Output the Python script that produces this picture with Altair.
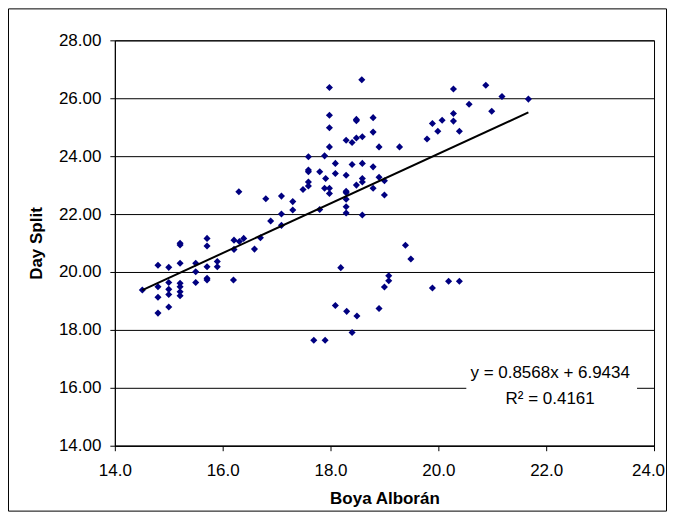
import altair as alt
import pandas as pd

# ---- data ----
boya = [14.51, 14.80, 14.80, 14.80, 14.80, 15.00, 15.00, 15.00, 15.00, 15.00,
        15.21, 15.21, 15.21, 15.21, 15.21, 15.21, 15.21, 15.50, 15.50, 15.50,
        15.71, 15.71, 15.71, 15.71, 15.71, 15.90, 15.90, 16.20, 16.21, 16.31,
        16.39, 16.21, 16.30, 16.59, 16.70, 16.80, 16.89, 17.09, 17.09, 17.09,
        17.30, 17.30, 17.49, 17.59, 17.59, 17.59, 17.59, 17.59, 17.69, 17.80,
        17.80, 17.89, 17.91, 17.89, 17.98, 17.98, 17.90, 17.98, 17.98, 17.98,
        17.98, 18.09, 18.09, 18.09, 18.19, 18.29, 18.29, 18.29, 18.29, 18.29,
        18.29, 18.29, 18.30, 18.40, 18.40, 18.40, 18.48, 18.48, 18.48, 18.48,
        18.49, 18.58, 18.59, 18.59, 18.59, 18.59, 18.59, 18.79, 18.79, 18.79,
        18.79, 18.90, 18.90, 18.90, 19.00, 19.00, 19.00, 19.08, 19.08, 19.28,
        19.39, 19.49, 19.79, 19.89, 19.89, 19.99, 20.07, 20.19, 20.28, 20.28,
        20.28, 20.39, 20.39, 20.57, 20.88, 20.99, 21.18, 21.67]
day_split = [19.38, 20.23, 19.49, 19.13, 18.58, 20.16, 19.64, 19.40, 19.22, 18.79,
             20.99, 20.93, 20.30, 19.61, 19.49, 19.32, 19.18, 20.30, 20.01, 19.64,
             21.16, 20.90, 20.18, 19.78, 19.72, 20.36, 20.18, 19.72, 21.10, 21.05,
             21.16, 20.78, 22.77, 20.79, 21.18, 22.53, 21.76, 22.62, 22.00, 21.61,
             22.43, 22.14, 22.85, 23.98, 23.52, 23.46, 23.11, 22.97, 17.64, 23.46,
             22.16, 24.01, 23.23, 22.89, 22.89, 22.71, 17.64, 26.37, 25.41, 24.98,
             24.32, 23.75, 23.40, 18.84, 20.15, 24.55, 23.34, 22.79, 22.74, 22.51,
             22.25, 22.04, 18.64, 24.47, 23.71, 17.91, 25.27, 25.22, 24.63, 23.00,
             18.48, 26.64, 24.67, 23.75, 23.23, 23.11, 21.97, 25.33, 24.83, 23.63,
             22.89, 24.32, 23.27, 18.74, 23.15, 22.66, 19.48, 19.87, 19.70, 24.32,
             20.92, 20.45, 24.59, 25.13, 19.45, 24.86, 25.24, 19.68, 26.32, 25.47,
             25.21, 24.86, 19.68, 25.79, 26.45, 25.55, 26.06, 25.97]

slope = 0.8568
intercept = 6.9434
r_squared = 0.4161

x_ticks = [14, 16, 18, 20, 22, 24]
y_ticks = [14, 16, 18, 20, 22, 24, 26, 28]

eq_line1 = f"y = {slope}x + {intercept}"
eq_line2 = f"R\u00b2 = {r_squared}"

FONT = "Liberation Sans"
NAVY = "#000080"

df = pd.DataFrame({"boya": boya, "split": day_split})
xmin, xmax = min(boya), max(boya)
trend = pd.DataFrame({"boya": [xmin, xmax],
                      "split": [slope * xmin + intercept, slope * xmax + intercept]})

xscale = alt.Scale(domain=[14, 24], nice=False, zero=False)
yscale = alt.Scale(domain=[14, 28], nice=False, zero=False)

points = alt.Chart(df).mark_point(
    shape="diamond", filled=True, color=NAVY, size=50, opacity=1
).encode(
    x=alt.X("boya:Q", scale=xscale,
            axis=alt.Axis(values=x_ticks, format=".1f", title="Boya Alborán",
                          grid=False, tickSize=5, labelPadding=12,
                          labelFlush=False, labelOverlap=False,
                          labelOffset={"condition": {"test": "datum.value == 24", "value": -6},
                                       "value": 0},
                          titleY=53, titleBaseline="middle")),
    y=alt.Y("split:Q", scale=yscale,
            axis=alt.Axis(values=y_ticks, format=".2f", title="Day Split",
                          grid=True, tickSize=5, labelPadding=9,
                          labelFlush=False, labelOverlap=False,
                          titleX=-78, titleY=203, titleBaseline="middle")),
)

line = alt.Chart(trend).mark_line(color="black", strokeWidth=2).encode(
    x=alt.X("boya:Q", scale=xscale),
    y=alt.Y("split:Q", scale=yscale),
)

label_box = alt.Chart(pd.DataFrame({"k": [0]})).mark_rect(fill="white").encode(
    x=alt.value(352), x2=alt.value(523), y=alt.value(318), y2=alt.value(372)
)

txt1 = alt.Chart(pd.DataFrame({"t": [eq_line1]})).mark_text(
    font=FONT, fontSize=17, color="black", align="center", baseline="middle"
).encode(text="t:N", x=alt.value(436), y=alt.value(333))

txt2 = alt.Chart(pd.DataFrame({"t": [eq_line2]})).mark_text(
    font=FONT, fontSize=17, color="black", align="center", baseline="middle"
).encode(text="t:N", x=alt.value(436), y=alt.value(359))

frame = alt.Chart(pd.DataFrame({"k": [0]})).mark_rect(
    fillOpacity=0, stroke="black", strokeWidth=1
).encode(
    x=alt.value(-106.5), x2=alt.value(552.5), y=alt.value(-31.5), y2=alt.value(471.5)
)

chart = alt.layer(points, line, label_box, txt1, txt2, frame).properties(
    width=540, height=406,
    autosize=alt.AutoSizeParams(type="none"),
    padding={"left": 107, "top": 32, "right": 13, "bottom": 66},
    background="white",
).configure_view(
    stroke="black", strokeWidth=1
).configure_axis(
    labelFont=FONT, labelFontSize=17, labelColor="black",
    titleFont=FONT, titleFontSize=17, titleFontWeight="bold", titleColor="black",
    domainColor="black", tickColor="black", gridColor="black", gridWidth=1,
    domainWidth=1, tickWidth=1,
)

chart.save("out.html", embed_options={"renderer": "svg", "actions": False})
